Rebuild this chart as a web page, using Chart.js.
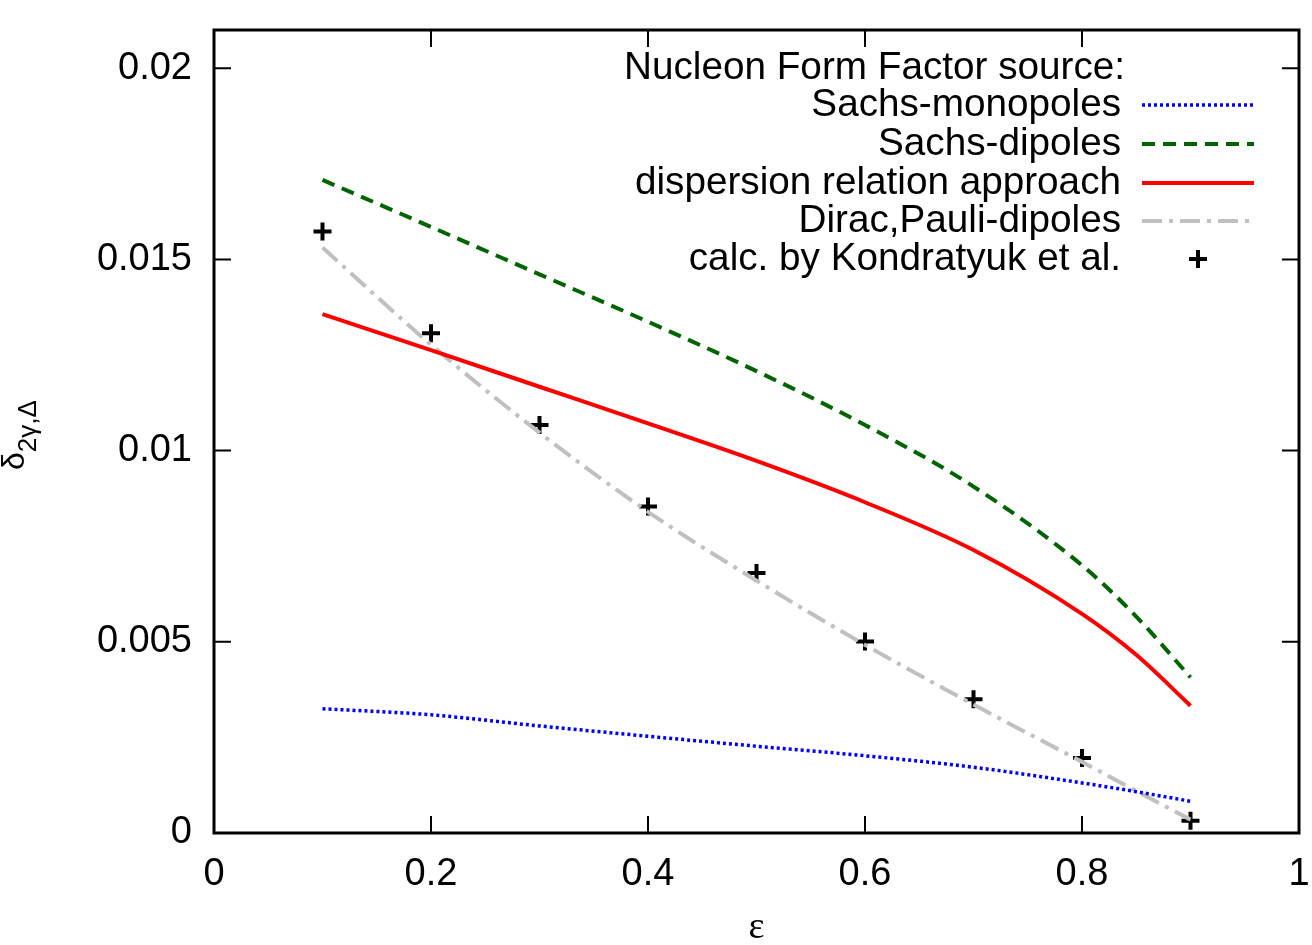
<!DOCTYPE html>
<html lang="en">
<head>
    <meta charset="UTF-8">
    <title>Two-photon exchange correction</title>
    <style>
        body {
            margin: 0;
            background: #fff;
        }
        .chart-container {
            width: 1312px;
            height: 945px;
            position: relative;
        }
    </style>
    <script src="https://cdn.jsdelivr.net/npm/chart.js"></script>
</head>
<body>
    <div class="chart-container">
        <canvas id="deltaChart"></canvas>
    </div>

    <script>
        // epsilon grid of the curves
        const epsCurve = [0.1, 0.2, 0.3, 0.4, 0.5, 0.6, 0.7, 0.8, 0.85, 0.9];
        const sachsMonopoles = [0.00325, 0.00309, 0.00280, 0.00253, 0.00227, 0.00202, 0.00172, 0.00131, 0.00108, 0.00083];
        const sachsDipoles = [0.01708, 0.01585, 0.01461, 0.01337, 0.01208, 0.01067, 0.00906, 0.00700, 0.00566, 0.00407];
        const dispersionRelation = [0.01357, 0.01263, 0.01167, 0.01071, 0.00973, 0.00865, 0.00740, 0.00573, 0.00466, 0.00333];
        const diracPauliDipoles = [0.01531, 0.01277, 0.01047, 0.00840, 0.00660, 0.00492, 0.00336, 0.00186, 0.00110, 0.00035];

        // points calculated by Kondratyuk et al.
        const epsCalc = [0.1, 0.2, 0.3, 0.4, 0.5, 0.6, 0.7, 0.8, 0.9];
        const kondratyuk = [0.01573, 0.01307, 0.01067, 0.00854, 0.00680, 0.00501, 0.00350, 0.00196, 0.00032];

        const xTicks = [0, 0.2, 0.4, 0.6, 0.8, 1];
        const yTicks = [0, 0.005, 0.01, 0.015, 0.02];
        const legendTitle = 'Nucleon Form Factor source:';

        const FONT = "'Liberation Sans', Arial, sans-serif";

        function toPoints(xs, ys) {
            return xs.map((x, i) => ({ x: x, y: ys[i] }));
        }

        function curve(label, ys, color, width, dash) {
            return {
                label: label,
                data: toPoints(epsCurve, ys),
                borderColor: color,
                borderWidth: width,
                borderDash: dash,
                pointRadius: 0,
                fill: false,
                cubicInterpolationMode: 'monotone'
            };
        }

        // gnuplot style frame with inward ticks on all four sides
        const framePlugin = {
            id: 'frame',
            afterDraw(chart) {
                const { ctx, chartArea: a, scales } = chart;
                ctx.save();
                ctx.strokeStyle = '#000';
                ctx.lineWidth = 2;
                ctx.setLineDash([]);
                const len = 17;
                xTicks.forEach(v => {
                    const px = scales.x.getPixelForValue(v);
                    ctx.beginPath();
                    ctx.moveTo(px, a.bottom); ctx.lineTo(px, a.bottom - len);
                    ctx.moveTo(px, a.top); ctx.lineTo(px, a.top + len);
                    ctx.stroke();
                });
                yTicks.forEach(v => {
                    const py = scales.y.getPixelForValue(v);
                    ctx.beginPath();
                    ctx.moveTo(a.left, py); ctx.lineTo(a.left + len, py);
                    ctx.moveTo(a.right, py); ctx.lineTo(a.right - len, py);
                    ctx.stroke();
                });
                ctx.lineWidth = 3;
                ctx.strokeRect(a.left, a.top, a.right - a.left, a.bottom - a.top);
                ctx.restore();
            }
        };

        // legend: right aligned text, sample to the right
        const keyPlugin = {
            id: 'key',
            afterDraw(chart) {
                const ctx = chart.ctx;
                const textRight = 1121;
                const sampleL = 1142, sampleR = 1254;
                const rows = [68, 105, 144, 183, 221, 259];
                ctx.save();
                ctx.font = '38.7px ' + FONT;
                ctx.fillStyle = '#000';
                ctx.textAlign = 'right';
                ctx.textBaseline = 'middle';
                ctx.fillText(legendTitle, textRight + 4, rows[0]);
                chart.data.datasets.forEach((ds, i) => {
                    const y = rows[i + 1];
                    ctx.fillStyle = '#000';
                    ctx.fillText(ds.label, textRight, y);
                    if (ds.showLine === false) {
                        const cx = 1198, r = ds.pointRadius;
                        ctx.strokeStyle = ds.pointBorderColor;
                        ctx.lineWidth = ds.pointBorderWidth;
                        ctx.setLineDash([]);
                        ctx.beginPath();
                        ctx.moveTo(cx - r, y); ctx.lineTo(cx + r, y);
                        ctx.moveTo(cx, y - r); ctx.lineTo(cx, y + r);
                        ctx.stroke();
                    } else {
                        ctx.strokeStyle = ds.borderColor;
                        ctx.lineWidth = ds.borderWidth;
                        ctx.setLineDash(ds.borderDash || []);
                        ctx.beginPath();
                        ctx.moveTo(sampleL, y); ctx.lineTo(sampleR, y);
                        ctx.stroke();
                    }
                });
                ctx.restore();
            }
        };

        // rotated y title with subscript
        const yTitlePlugin = {
            id: 'yTitle',
            afterDraw(chart) {
                const ctx = chart.ctx;
                ctx.save();
                ctx.translate(24, 470);
                ctx.rotate(-Math.PI / 2);
                ctx.fillStyle = '#000';
                ctx.textAlign = 'left';
                ctx.textBaseline = 'alphabetic';
                ctx.font = '32px ' + FONT;
                ctx.fillText('δ', 0, 0);
                const w = ctx.measureText('δ').width;
                ctx.font = '26px ' + FONT;
                ctx.fillText('2γ,Δ', w, 12);
                ctx.restore();
            }
        };

        new Chart(document.getElementById('deltaChart'), {
            type: 'line',
            data: {
                datasets: [
                    curve('Sachs-monopoles', sachsMonopoles, '#0000ff', 3.5, [3, 3]),
                    curve('Sachs-dipoles', sachsDipoles, '#006400', 4, [13, 8]),
                    curve('dispersion relation approach', dispersionRelation, '#ff0000', 4, []),
                    curve('Dirac,Pauli-dipoles', diracPauliDipoles, '#c0c0c0', 4, [20, 7, 4, 7]),
                    {
                        label: 'calc. by Kondratyuk et al.',
                        data: toPoints(epsCalc, kondratyuk),
                        showLine: false,
                        pointStyle: 'cross',
                        pointRadius: 9,
                        pointBorderWidth: 4,
                        pointBorderColor: '#000',
                        pointBackgroundColor: '#000',
                        borderColor: '#000'
                    }
                ]
            },
            options: {
                responsive: true,
                maintainAspectRatio: false,
                animation: false,
                layout: { padding: { top: 30, right: 11, left: 0, bottom: 0 } },
                plugins: {
                    legend: { display: false },
                    tooltip: { enabled: false }
                },
                scales: {
                    x: {
                        type: 'linear',
                        min: 0,
                        max: 1,
                        grid: { display: false, drawTicks: false },
                        border: { display: false },
                        afterBuildTicks: s => { s.ticks = xTicks.map(v => ({ value: v })); },
                        afterFit: s => { s.height = 112; s.paddingLeft = 0; s.paddingRight = 0; },
                        ticks: {
                            padding: 19,
                            color: '#000',
                            maxRotation: 0,
                            font: { family: FONT, size: 38 },
                            callback: v => String(+v.toFixed(1))
                        },
                        title: {
                            display: true,
                            text: 'ε',
                            color: '#000',
                            padding: { top: 0, bottom: -6 },
                            font: { family: "'Liberation Serif', serif", size: 38 }
                        }
                    },
                    y: {
                        min: 0,
                        max: 0.021,
                        grid: { display: false, drawTicks: false },
                        border: { display: false },
                        afterBuildTicks: s => { s.ticks = yTicks.map(v => ({ value: v })); },
                        afterFit: s => { s.width = 214; s.paddingTop = 0; s.paddingBottom = 0; },
                        ticks: {
                            padding: 22,
                            color: '#000',
                            font: { family: FONT, size: 38 },
                            callback: v => String(+v.toFixed(4))
                        }
                    }
                }
            },
            plugins: [framePlugin, keyPlugin, yTitlePlugin]
        });
    </script>
</body>
</html>
